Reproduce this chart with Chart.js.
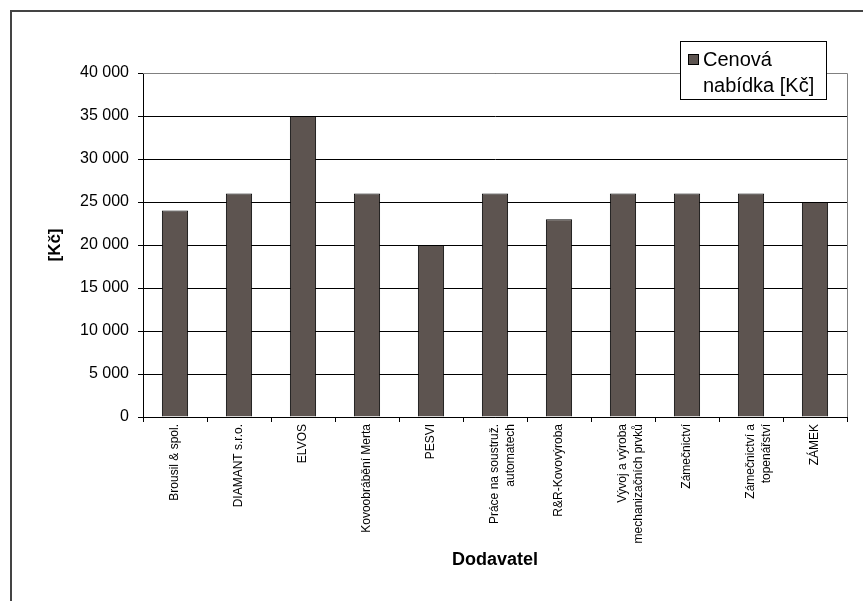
<!DOCTYPE html>
<html>
<head>
<meta charset="utf-8">
<script src="https://cdn.jsdelivr.net/npm/chart.js@4/dist/chart.umd.min.js"></script>
<style>
  html, body { margin: 0; padding: 0; background: #fff; overflow: hidden; }
  #frame { position: absolute; left: 10px; top: 10px; width: 900px; height: 640px;
           border: 2px solid #444; box-sizing: border-box; }
  #wrap { position: absolute; left: 0; top: 0; width: 863px; height: 601px; }
</style>
</head>
<body>
<div id="frame"></div>
<div id="wrap"><canvas id="c" width="863" height="601"></canvas></div>
<script>
// Suppliers and their price offers
const suppliers = [
  'Brousil & spol.',
  'DIAMANT s.r.o.',
  'ELVOS',
  'Kovoobrábění Merta',
  'PESVI',
  ['Práce na soustruž.', 'automatech'],
  'R&R-Kovovýroba',
  ['Vývoj a výroba', 'mechanizačních prvků'],
  'Zámečnictví',
  ['Zámečnictví a', 'topenářství'],
  'ZÁMEK'
];
const offers = [24000, 26000, 35000, 26000, 20000, 26000, 23000, 26000, 26000, 26000, 25000];
const seriesName = ['Cenová', 'nabídka [Kč]'];
const yTitle = '[Kč]';
const xTitle = 'Dodavatel';

const FONT = 'Liberation Sans, Arial, sans-serif';

// Plot frame (grey top/right edges) and the boxed legend
const decor = {
  id: 'decor',
  afterDraw(chart) {
    const { ctx, chartArea: a } = chart;
    ctx.save();
    ctx.strokeStyle = '#808080';
    ctx.lineWidth = 1;
    ctx.beginPath();
    ctx.moveTo(a.left, a.top + 0.5);
    ctx.lineTo(a.right + 0.5, a.top + 0.5);
    ctx.lineTo(a.right + 0.5, a.bottom);
    ctx.stroke();

    // legend box
    const bx = 680.5, by = 41.5, bw = 146, bh = 58;
    ctx.fillStyle = '#fff';
    ctx.fillRect(bx, by, bw, bh);
    ctx.strokeStyle = '#000';
    ctx.strokeRect(bx, by, bw, bh);
    const ds = chart.data.datasets[0];
    ctx.fillStyle = ds.backgroundColor;
    ctx.fillRect(689, 55, 9, 9);
    ctx.strokeRect(688.5, 54.5, 10, 10);
    ctx.fillStyle = '#000';
    ctx.font = '20px ' + FONT;
    ctx.textBaseline = 'middle';
    ctx.fillText(ds.label[0], 703, 60);
    ctx.fillText(ds.label[1], 703, 86);
    ctx.restore();
  }
};

new Chart(document.getElementById('c'), {
  type: 'bar',
  data: {
    labels: suppliers,
    datasets: [{
      label: seriesName,
      data: offers,
      backgroundColor: '#5d5450',
      borderColor: '#000',
      borderWidth: 1,
      barPercentage: 0.41,
      categoryPercentage: 1.0
    }]
  },
  options: {
    responsive: false,
    animation: false,
    devicePixelRatio: 1,
    layout: { padding: { left: 45, top: 73, right: 16, bottom: 30 } },
    plugins: { legend: { display: false }, tooltip: { enabled: false } },
    scales: {
      x: {
        grid: { display: true, drawOnChartArea: false, drawTicks: true, tickLength: 5,
                color: '#000', offset: true },
        border: { color: '#000', width: 1 },
        ticks: {
          maxRotation: 90, minRotation: 90, autoSkip: false,
          color: '#000', font: { family: FONT, size: 12, lineHeight: 1.3 }, padding: 2
        },
        title: { display: true, text: xTitle, color: '#000',
                 font: { family: FONT, size: 18, weight: 'bold' }, padding: { top: 0, bottom: 0 } },
        afterFit(s) { s.height = 601 - 417 - 30; }
      },
      y: {
        min: 0, max: 40000,
        grid: { color: '#000', lineWidth: 1, tickLength: 5, drawTicks: true },
        border: { color: '#000', width: 1 },
        ticks: {
          stepSize: 5000, color: '#000', padding: 9,
          font: { family: FONT, size: 16 },
          callback: v => String(v).replace(/\B(?=(\d{3})+(?!\d))/g, ' ')
        },
        title: { display: true, text: yTitle, color: '#000',
                 font: { family: FONT, size: 17, weight: 'bold' }, padding: { top: 0, bottom: 0 } },
        afterFit(s) { s.width = 143 - 45; }
      }
    }
  },
  plugins: [decor]
});
</script>
</body>
</html>
